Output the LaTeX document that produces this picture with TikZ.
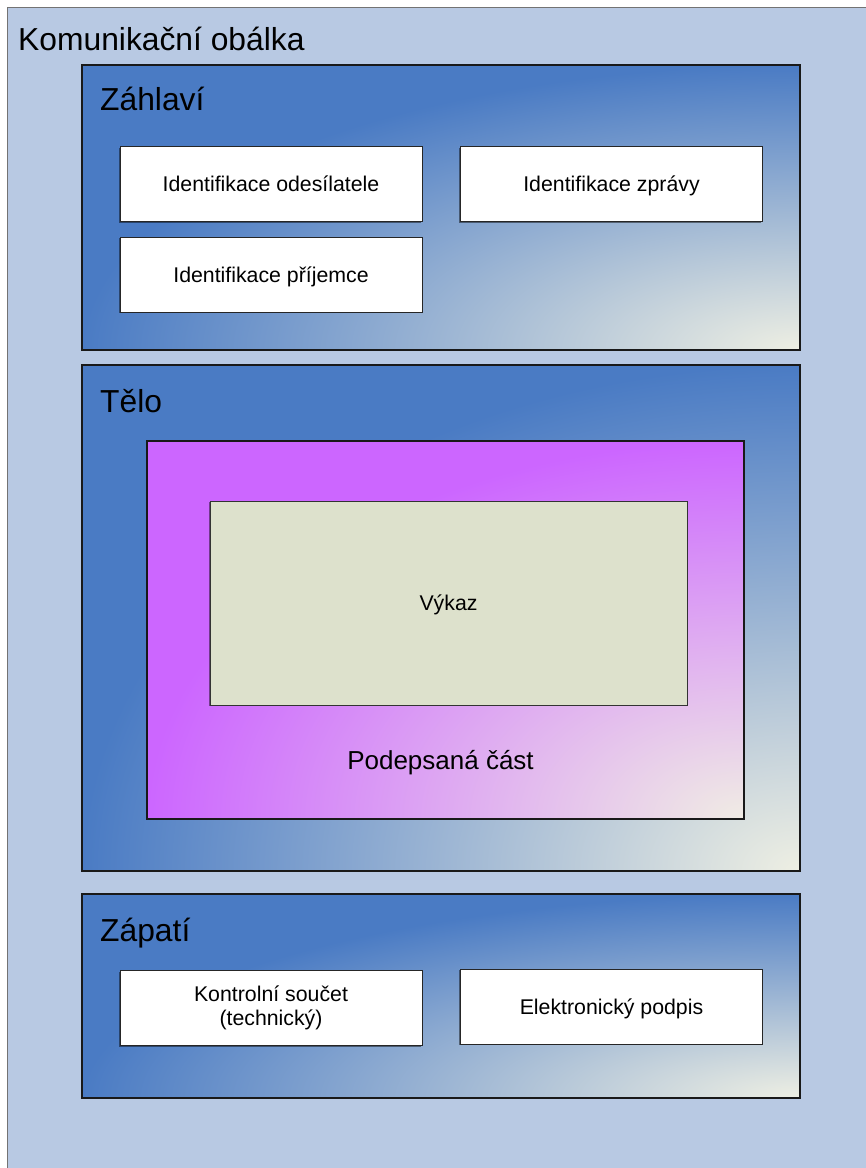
\documentclass[tikz,border=0pt]{standalone}
\usepackage{fontspec}
\setmainfont{Liberation Sans}
\usetikzlibrary{calc,shadows}
\definecolor{bgblue}{HTML}{B8C9E3}
\definecolor{gblue}{HTML}{4A7BC4}
\definecolor{givory}{HTML}{EEEFE3}
\definecolor{gpurple}{HTML}{CC66FF}
\definecolor{pivory}{HTML}{F0ECE4}
\definecolor{vykazfill}{HTML}{DDE1CC}
\pgfdeclareradialshading{blueshade}{\pgfpointorigin}{color(0bp)=(givory); color(25bp)=(gblue); color(50bp)=(gblue)}
\pgfdeclareradialshading{purpleshade}{\pgfpointorigin}{color(0bp)=(pivory); color(25bp)=(gpurple); color(50bp)=(gpurple)}
\begin{document}
\begin{tikzpicture}[x=1pt,y=-1pt,
  boxshadow/.style={general shadow={fill=black, opacity=0.45, shadow xshift=-1.2pt, shadow yshift=-1.2pt}},
  gradbox/.style={draw=black!90, line width=1.1pt, inner sep=0pt, boxshadow,
    path picture={\shade[shading=#1] (path picture bounding box.north west) rectangle ($(path picture bounding box.south east)!-1!(path picture bounding box.north west)$);}},
  titlefont/.style={font=\fontsize{31.8}{38}\selectfont, inner sep=0pt},
  midfont/.style={font=\fontsize{26}{31}\selectfont, inner sep=0pt},
  whitebox/.style={draw=black!85, fill=white, line width=0.9pt, boxshadow,
    minimum width=302pt, minimum height=75pt, align=center, inner sep=0pt,
    font=\fontsize{21.3}{23.5}\selectfont},
  oneline/.style={text height=15pt, text depth=0pt},
  vykazbox/.style={draw=black!80, fill=vykazfill, line width=0.9pt, boxshadow,
    minimum width=477pt, minimum height=204pt, inner sep=0pt,
    font=\fontsize{21.3}{23.5}\selectfont}
]
\useasboundingbox (0,0) rectangle (866,1168);
\node[draw=black!55, line width=1pt, fill=bgblue, minimum width=875pt, minimum height=1175pt, anchor=north west, inner sep=0pt] (obalka) at (7,7) {};
\node[titlefont, anchor=base west] (obalkaT) at (18,50) {Komunikační obálka};

\node[gradbox=blueshade, minimum width=718pt, minimum height=285pt] (zahlavi) at (441,207.5) {};
\node[titlefont, anchor=base west] (zahlaviT) at (100,110) {Záhlaví};
\node[whitebox, oneline] (odesilatel) at (271,184) {Identifikace odesílatele};
\node[whitebox, oneline] (zprava) at (611.5,184) {Identifikace zprávy};
\node[whitebox, oneline] (prijemce) at (271,274.5) {Identifikace příjemce};

\node[gradbox=blueshade, minimum width=718pt, minimum height=506pt] (telo) at (441,618) {};
\node[titlefont, anchor=base west] (teloT) at (100,412) {Tělo};
\node[gradbox=purpleshade, minimum width=597pt, minimum height=378pt] (podepsana) at (445.5,630) {};
\node[midfont, anchor=base] (podepsanaT) at (440.5,769) {Podepsaná část};
\node[vykazbox, oneline] (vykaz) at (448.5,603) {Výkaz};

\node[gradbox=blueshade, minimum width=718pt, minimum height=204pt] (zapati) at (441,996) {};
\node[titlefont, anchor=base west] (zapatiT) at (100,941) {Zápatí};
\node[whitebox] (kontrolni) at (271,1008) {Kontrolní součet\\(technický)};
\node[whitebox, oneline] (podpis) at (611.5,1006.5) {Elektronický podpis};
\end{tikzpicture}
\end{document}
